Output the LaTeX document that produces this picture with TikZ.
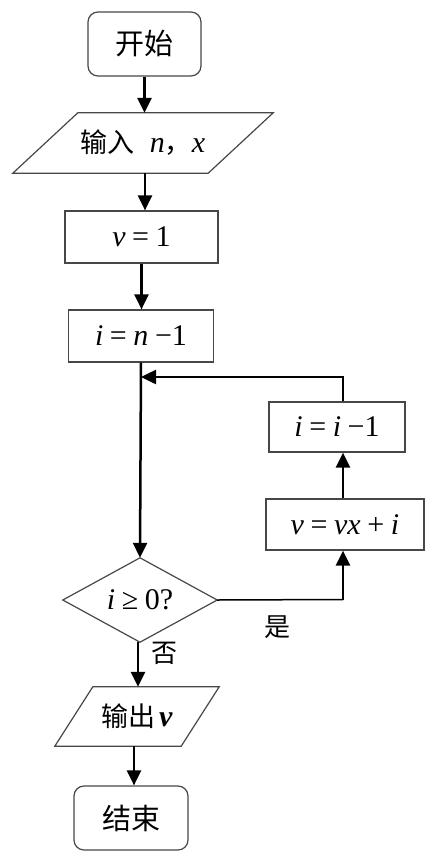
\documentclass[tikz,border=0pt]{standalone}
\usepackage{fontspec}
\setmainfont{Liberation Serif}
\newfontfamily\cjk{Noto Sans CJK SC}
\usetikzlibrary{arrows.meta,calc}
\newcommand{\mv}[1]{\textit{#1}}
\newcommand{\gp}{\hspace{0.22em}}
\begin{document}
\begin{tikzpicture}[x=1pt,y=-1pt,
  txt/.style={font=\fontsize{30}{34}\selectfont, inner sep=0pt, align=center},
  proc/.style={txt, draw=black!72, line width=1.2pt},
  term/.style={proc, rounded corners=10pt},
  shapeline/.style={draw=black!72, line width=1.2pt, line join=miter},
  flow/.style={line width=2.5pt, -{Triangle[length=15pt,width=14pt]}},
  thinline/.style={line width=1.5pt},
  cjkbig/.style={font=\cjk\fontsize{29}{32}\selectfont},
  lbl/.style={font=\cjk\fontsize{26}{30}\selectfont, inner sep=0pt}]
\path[use as bounding box, fill=white] (0,0) rectangle (438,863);

\node[term, cjkbig, minimum width=113, minimum height=64] (start) at (144.5,44) {开始};
\node[txt, minimum width=195, minimum height=60] (in) at (143,143) {{\cjk\fontsize{27}{30}\selectfont 输入}\hspace{0.5em}\mv{n}{\cjk\fontsize{27}{30}\selectfont ，}\mv{x}};
\draw[shapeline] ($(in.north west)+(32.5,0)$) -- ($(in.north east)+(32.5,0)$) -- ($(in.south east)+(-32.5,0)$) -- ($(in.south west)+(-32.5,0)$) -- cycle;
\node[proc, minimum width=153, minimum height=52] (v1) at (141.5,237) {\mv{v}\gp=\gp1};
\node[proc, minimum width=145, minimum height=52] (inm) at (141,336) {\mv{i}\gp=\gp\mv{n}\gp−1};
\node[proc, minimum width=136, minimum height=50] (ii) at (337,427) {\mv{i}\gp=\gp\mv{i}\gp−1};
\node[proc, minimum width=158, minimum height=51] (vx) at (345,524.5) {\mv{v}\gp=\gp\mv{vx}\gp+\gp\mv{i}};
\node[txt, minimum width=154, minimum height=84] (d) at (140,600) {\raisebox{-2pt}{\mv{i}\gp≥\gp0?}};
\draw[shapeline] (d.north) -- (d.east) -- (d.south) -- (d.west) -- cycle;
\node[txt, minimum width=126, minimum height=59] (out) at (137,716.5) {{\cjk\fontsize{27}{30}\selectfont 输出}\hspace{0.12em}\textit{\textbf{v}}};
\draw[shapeline] ($(out.north west)+(19,0)$) -- ($(out.north east)+(19,0)$) -- ($(out.south east)+(-19,0)$) -- ($(out.south west)+(-19,0)$) -- cycle;
\node[term, cjkbig, minimum width=114, minimum height=64] (end) at (131,818) {结束};

\node[lbl] (yes) at (277,627) {是};
\node[lbl] (no) at (164,653) {否};

\coordinate (j) at (141,377);
\coordinate (k) at (343,377);
\coordinate (r) at (343,599.5);

\draw[flow] (start.south) -- (start.south |- in.north);
\draw[flow] ([xshift=2pt]in.south) -- ([xshift=2pt]in.south |- v1.north);
\draw[flow] (v1.south) -- (v1.south |- inm.north);
\draw[flow] (inm.south) -- (d.north);
\draw[flow] ([xshift=-2pt]d.south) -- ([xshift=-2pt]d.south |- out.north);
\draw[flow] ([xshift=-3pt]out.south) -- ([xshift=-3pt]out.south |- end.north);
\draw[thinline] (d.east) -- (r);
\draw[flow] (r) -- (r |- vx.south);
\draw[flow] ([xshift=-2pt]vx.north) -- ([xshift=-2pt]vx.north |- ii.south);
\draw[thinline] ([xshift=6pt]ii.north) -- (k);
\draw[flow] ([xshift=1.2pt]k) -- (j);
\end{tikzpicture}
\end{document}
